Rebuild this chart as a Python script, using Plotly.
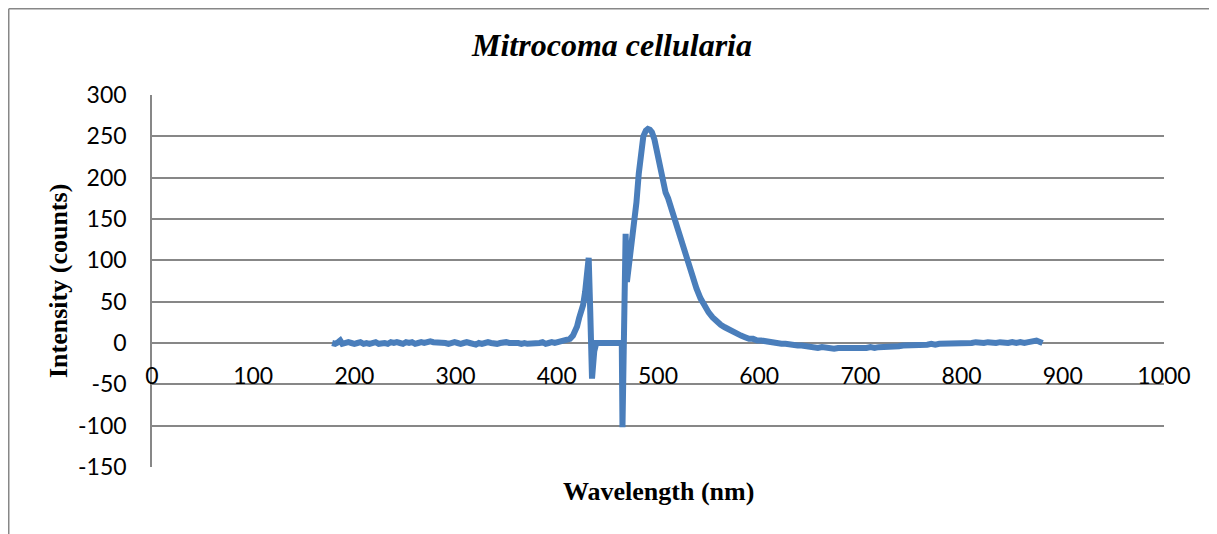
import plotly.graph_objects as go

# ---- data ----
wavelength = [
    178, 181, 184, 186, 188, 191, 194, 197, 200, 203, 206, 209, 212, 215, 218, 221, 224, 227, 230, 233,
    236, 239, 242, 245, 248, 251, 254, 257, 260, 263, 266, 269, 272, 275, 278, 281, 284, 287, 290, 293,
    296, 299, 302, 305, 308, 311, 314, 317, 320, 323, 326, 329, 332, 335, 338, 341, 344, 347, 350, 353,
    356, 359, 362, 365, 368, 371, 374, 377, 380, 383, 386, 389, 392, 395, 398, 401, 404, 407, 410, 413,
    416, 418, 420, 422, 424, 426, 428, 430, 431.5, 433, 434.8, 437, 439, 445, 450, 455, 460, 464.2, 464.9,
    467, 468, 469.3, 471, 473.5, 476, 478.7, 481, 483, 485.5, 488, 490, 492, 494, 496.5, 499, 501, 503,
    505, 507.5, 510, 513, 516.5, 520, 523, 526.5, 530, 534, 538, 542, 546, 550, 554, 558, 562, 566, 570,
    574, 578, 582, 586, 590, 594, 598, 602, 606, 610, 614, 618, 622, 626, 630, 634, 638, 642, 646, 650,
    654, 658, 662, 666, 670, 674, 678, 682, 686, 690, 694, 698, 702, 706, 710, 714, 718, 722, 726, 730,
    734, 738, 742, 746, 750, 754, 758, 762, 766, 770, 774, 778, 782, 786, 790, 794, 798, 802, 806, 810,
    814, 818, 822, 826, 830, 834, 838, 842, 846, 850, 854, 858, 862, 866, 870, 874, 878, 880,
]
intensity = [
    0, -1, 1, 3, -1, 0, 1, 0, -1, 0, 1, -1, 0, -1, 0, 1, -1, 0, 0, -1,
    1, 0, 1, 0, -1, 1, 0, 1, -1, 0, 1, 0, 1, 2, 1, 1, 0, 1, 0, -1,
    0, 1, 0, -1, 0, 1, 0, -1, -2, 0, -1, 0, 1, 0, -1, -1, 0, 1, 1, 0,
    0, 1, 0, -1, 0, -1, -1, 0, -1, 0, 1, -1, 0, 1, 0, 1, 1, 2, 3, 5,
    9, 13, 20, 30, 38, 46, 62, 85, 103, 40, -43, -10, 0, 0, 0, 0, 0, 0, -102,
    40, 132, 74, 92, 108, 140, 170, 205, 232, 250, 257, 259, 258, 255, 246, 232, 221, 205,
    193, 182, 175, 163, 151, 135, 120, 107, 95, 80, 66, 54, 45, 37, 31, 26, 22, 19, 16,
    13, 11, 9, 7, 5, 5, 3, 3, 2, 1, 0, 0, -1, -1, -2, -2, -3, -3, -4, -5,
    -5, -6, -5, -6, -6, -7, -6, -6, -7, -6, -7, -6, -7, -6, -5, -6, -5, -5, -4, -5,
    -4, -4, -3, -3, -3, -2, -3, -2, -2, -1, -2, -1, -1, -1, 0, -1, 0, 0, -1, 0,
    1, 0, 0, 1, 0, 0, 1, 0, 0, 1, 0, 1, 0, 1, 2, 3, 1, 0,
]
x_ticks = [0, 100, 200, 300, 400, 500, 600, 700, 800, 900, 1000]
x_tick_labels = ["0", "100", "200", "300", "400", "500", "600", "700", "800", "900", "1000"]
y_ticks = [-150, -100, -50, 0, 50, 100, 150, 200, 250, 300]
y_tick_labels = ["-150", "-100", "-50", "0", "50", "100", "150", "200", "250", "300"]

title_text = "Mitrocoma cellularia"
x_title = "Wavelength (nm)"
y_title = "Intensity (counts)"

# ---- layout constants (page body has an 8px margin) ----
W, H = 1209, 526
ML, MR, MT, MB = 144, 53, 87, 67
PW = W - ML - MR
PH = H - MT - MB
GRID = "#878787"
LINE = "#4a7ebb"
TICKFONT = dict(family="Lato, Carlito, Calibri, sans-serif", size=23, color="#000000")
SERIF = "Liberation Serif, Times New Roman, serif"

fig = go.Figure()
fig.add_trace(go.Scatter(
    x=wavelength, y=intensity, mode="lines",
    line=dict(color=LINE, width=6),
    hoverinfo="skip", showlegend=False,
))

y0_frac = (0 - y_ticks[0]) / (y_ticks[-1] - y_ticks[0])

fig.update_layout(
    width=W, height=H,
    margin=dict(l=ML, r=MR, t=MT, b=MB, pad=0),
    paper_bgcolor="white", plot_bgcolor="white",
    showlegend=False,
    xaxis=dict(
        range=[x_ticks[0], x_ticks[-1]], tickvals=x_ticks, ticktext=x_tick_labels,
        showgrid=False, zeroline=False, showline=False,
        ticks="", anchor="free", position=y0_frac,
        tickfont=TICKFONT, ticklabelstandoff=17,
    ),
    yaxis=dict(
        range=[y_ticks[0], y_ticks[-1]], tickvals=y_ticks, ticktext=y_tick_labels,
        showgrid=True, gridcolor=GRID, gridwidth=1.5,
        zeroline=False, showline=True, linecolor=GRID, linewidth=1.5,
        ticks="", tickfont=TICKFONT, ticklabelstandoff=19,
        domain=[0, 1],
    ),
    title=dict(
        text="<b><i>" + title_text + "</i></b>",
        font=dict(family=SERIF, size=32, color="#000000"),
        xref="container", yref="container",
        x=604 / W, xanchor="center",
        y=1 - 37 / H, yanchor="middle",
    ),
)

# axis titles
fig.add_annotation(
    text="<b>" + x_title + "</b>", xref="paper", yref="paper",
    x=0.5, y=-24 / PH, xanchor="center", yanchor="middle",
    showarrow=False, font=dict(family=SERIF, size=26, color="#000000"),
)
fig.add_annotation(
    text="<b>" + y_title + "</b>", xref="paper", yref="paper",
    x=(50 - ML) / PW, y=0.5, xanchor="center", yanchor="middle", textangle=-90,
    showarrow=False, font=dict(family=SERIF, size=26, color="#000000"),
)

# outer chart border (top and left edges visible in the crop)
left = (0.75 - ML) / PW
top = (H - MB - 0.75) / PH
bottom = -MB / PH
right = (W - ML) / PW
fig.add_shape(type="line", xref="paper", yref="paper", x0=left, x1=right, y0=top, y1=top,
              line=dict(color=GRID, width=1.5))
fig.add_shape(type="line", xref="paper", yref="paper", x0=left, x1=left, y0=top, y1=bottom,
              line=dict(color=GRID, width=1.5))

fig.write_html("out.html")
